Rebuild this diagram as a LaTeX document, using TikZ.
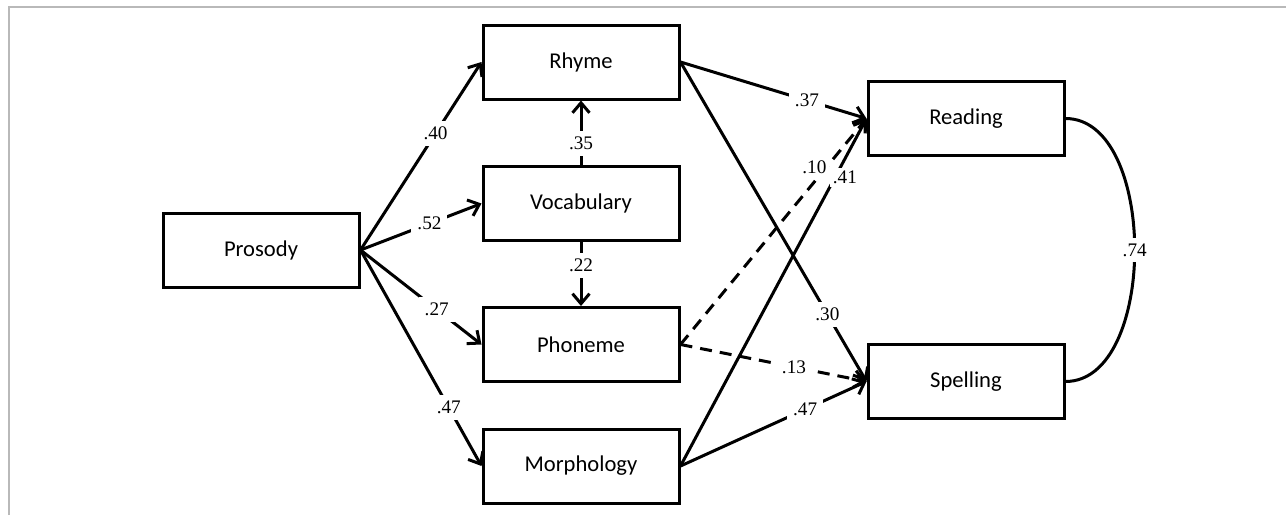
\documentclass[tikz,border=0pt]{standalone}
\usepackage{fontspec}
\setmainfont{Liberation Serif}
\newfontfamily\boxfont{Carlito}
\usetikzlibrary{arrows.meta}
\tikzset{
  var/.style={draw, line width=1.5pt, minimum width=98pt, minimum height=37pt,
    inner sep=0pt, font=\boxfont\fontsize{11.3}{13}\selectfont},
  coef/.style={fill=white, inner sep=3pt, font=\fontsize{9.6}{11}\selectfont},
  path/.style={line width=1.5pt, -{Straight Barb[length=5pt,width=8.5pt]}},
  dpath/.style={path, dash pattern=on 6pt off 4pt},
}
\begin{document}
\begin{tikzpicture}[x=0.5pt,y=-0.5pt]
\useasboundingbox (0,0) rectangle (1286,515);
% frame
\draw[gray!55, line width=0.8pt] (9,515) -- (9,7) -- (1286,7);
% variables
\node[var] (prosody) at (261,250) {Prosody};
\node[var] (rhyme) at (581,62) {Rhyme};
\node[var] (vocab) at (581,203.5) {Vocabulary};
\node[var] (phoneme) at (581,344.5) {Phoneme};
\node[var] (morph) at (581,466) {Morphology};
\node[var] (reading) at (966,118.5) {Reading};
\node[var] (spelling) at (966,381.5) {Spelling};
% paths from prosody
\draw[path] (prosody.east) -- node[coef,pos=0.62] {.40} (rhyme.west);
\draw[path] (prosody.east) -- node[coef,pos=0.57] {.52} (vocab.west);
\draw[path] (prosody.east) -- node[coef,pos=0.63] {.27} (phoneme.west);
\draw[path] (prosody.east) -- node[coef,pos=0.73] {.47} (morph.west);
% vocabulary
\draw[path] (vocab.north) -- node[coef,pos=0.34] {.35} (rhyme.south);
\draw[path] (vocab.south) -- node[coef,pos=0.36] {.22} (phoneme.north);
% outcomes
\draw[path] (rhyme.east) -- node[coef,pos=0.68] {.37} (reading.west);
\draw[path] (rhyme.east) -- node[coef,pos=0.79] {.30} (spelling.west);
\draw[dpath] (phoneme.east) -- node[coef,pos=0.72,yshift=7.5pt,inner sep=1.5pt] {.10} (reading.west);
\draw[dpath] (phoneme.east) -- node[coef,pos=0.61] {.13} (spelling.west);
\draw[path] (morph.east) -- node[coef,pos=0.83,xshift=5pt,inner sep=1.5pt] {.41} (reading.west);
\draw[path] (morph.east) -- node[coef,pos=0.67] {.47} (spelling.west);
% correlation
\draw[line width=1.5pt] (reading.east) to[out=0,in=0,looseness=0.9]
  node[coef] {.74} (spelling.east);
\end{tikzpicture}
\end{document}
